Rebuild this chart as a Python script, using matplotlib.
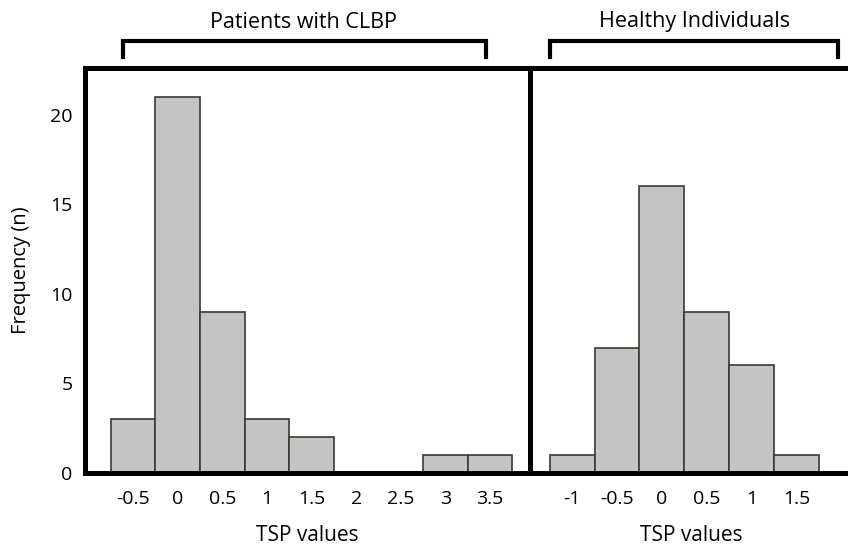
import matplotlib
matplotlib.use("Agg")
import matplotlib.pyplot as plt
from matplotlib.lines import Line2D

plt.rcParams['font.family'] = ['Open Sans', 'DejaVu Sans']

# TSP bins (bar centres) and counts
clbp_bins = [-0.5, 0, 0.5, 1, 1.5, 2, 2.5, 3, 3.5]
clbp_counts = [3, 21, 9, 3, 2, 0, 0, 1, 1]
clbp_labels = ['-0.5', '0', '0.5', '1', '1.5', '2', '2.5', '3', '3.5']

healthy_bins = [-1, -0.5, 0, 0.5, 1, 1.5]
healthy_counts = [1, 7, 16, 9, 6, 1]
healthy_labels = ['-1', '-0.5', '0', '0.5', '1', '1.5']

yticks = [0, 5, 10, 15, 20]

W, H = 848, 546
fig = plt.figure(figsize=(W / 100, H / 100), dpi=100)

bottom = 1 - 473 / H
height = (473 - 68) / H
ax1 = fig.add_axes([85 / W, bottom, (530 - 85) / W, height])
ax2 = fig.add_axes([530 / W, bottom, (W - 530 + 4) / W, height])
ax2.patch.set_alpha(0)

bar_color = '#c4c4c4'
edge_color = '#3a3a30'

ax1.bar(clbp_bins, clbp_counts, width=0.5, color=bar_color,
        edgecolor=edge_color, linewidth=1.2)
ax2.bar(healthy_bins, healthy_counts, width=0.5, color=bar_color,
        edgecolor=edge_color, linewidth=1.2)

ax1.set_xlim(-1.037, 3.947)
ax2.set_xlim(-1.47, 2.12)
for ax in (ax1, ax2):
    ax.set_ylim(0, 22.6)
    for s in ax.spines.values():
        s.set_linewidth(3.6)
        s.set_color('black')
    ax.tick_params(length=0, labelsize=14, pad=12)
    ax.set_xlabel('TSP values', fontsize=15, labelpad=12.5)

ax1.set_xticks(clbp_bins)
ax1.set_xticklabels(clbp_labels)
ax2.set_xticks(healthy_bins)
ax2.set_xticklabels(healthy_labels)

ax1.set_yticks(yticks)
ax1.tick_params(axis='y', pad=9)
ax1.set_ylabel('Frequency (n)', fontsize=14.5, labelpad=14)
ax2.set_yticks([])
ax2.spines['right'].set_visible(False)

# group brackets above the panels
def bracket(x0, x1, y0=41, y1=57):
    xs = [x0 / W, x0 / W, x1 / W, x1 / W]
    ys = [1 - y1 / H, 1 - y0 / H, 1 - y0 / H, 1 - y1 / H]
    fig.add_artist(Line2D(xs, ys, color='black', linewidth=3,
                          solid_joinstyle='miter'))

bracket(123, 486)
bracket(550, 838)
fig.text(303 / W, 1 - 22 / H, 'Patients with CLBP', ha='center', va='center', fontsize=15.5)
fig.text(695 / W, 1 - 22 / H, 'Healthy Individuals', ha='center', va='center', fontsize=15.5)

fig.savefig('out.png', dpi=100)
